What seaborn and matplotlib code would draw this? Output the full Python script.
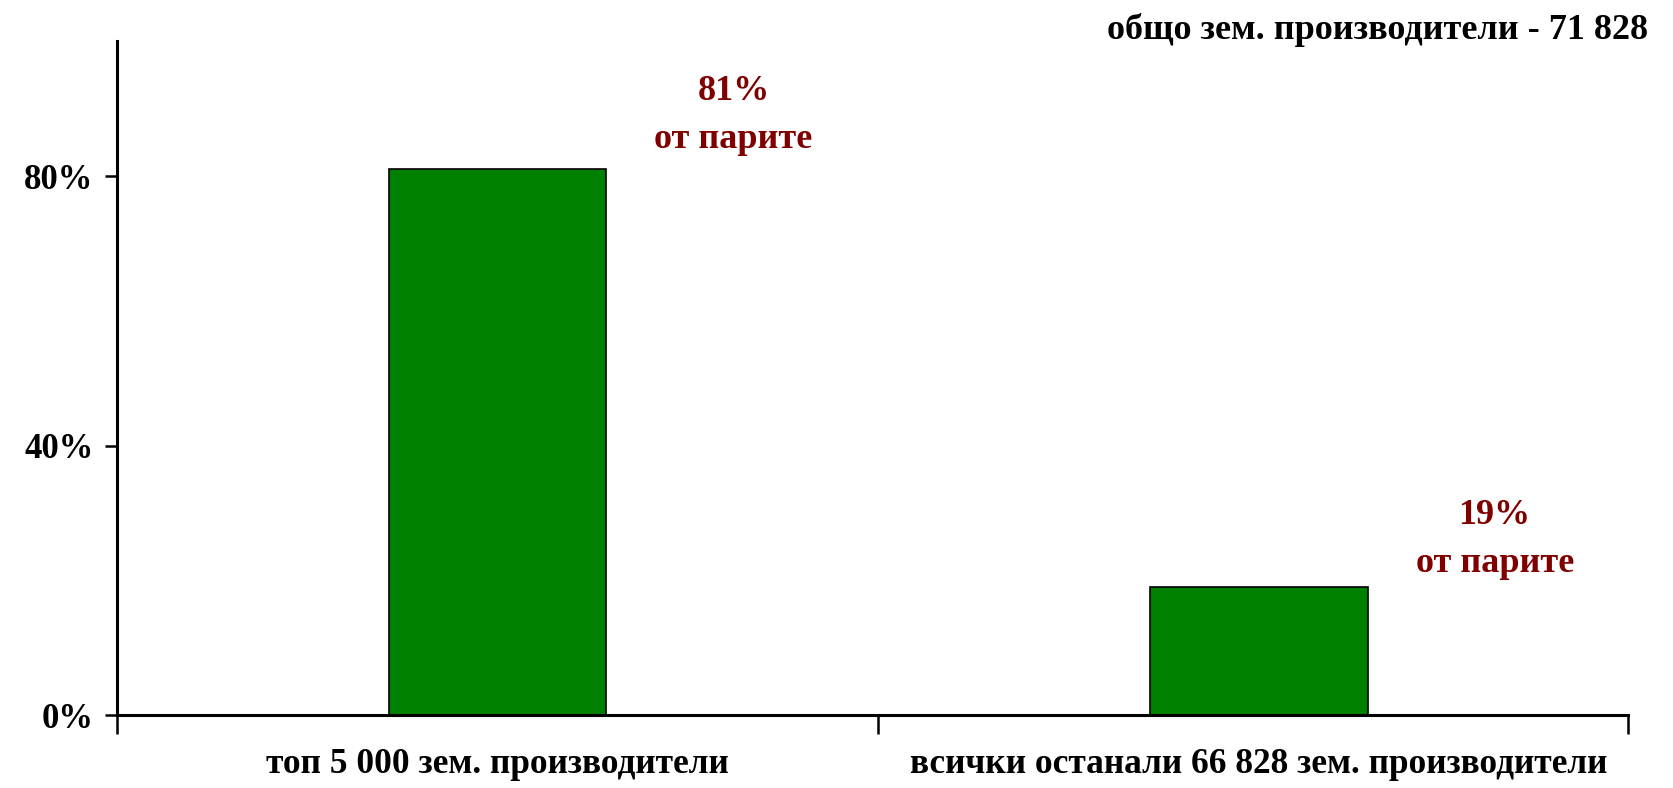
import seaborn as sns
import matplotlib.pyplot as plt
import pandas as pd

categories = ['топ 5 000 зем. производители', 'всички останали 66 828 зем. производители']
shares = [81, 19]
notes = ['81%\nот парите', '19%\nот парите']
yticks = [0, 40, 80]
ytick_labels = ['0%', '40%', '80%']
title = 'общо зем. производители - 71 828'

sns.set_style('white')
plt.rcParams['font.family'] = ['Liberation Serif', 'DejaVu Serif']
plt.rcParams['font.weight'] = 'bold'
plt.rcParams['text.color'] = 'black'
plt.rcParams['xtick.color'] = 'black'
plt.rcParams['ytick.color'] = 'black'

fig = plt.figure(figsize=(16.73, 7.88), dpi=100)
ax = fig.add_axes([0.070, 0.0926, 0.903, 0.855])

df = pd.DataFrame({'cat': categories, 'share': shares})
sns.barplot(data=df, x='cat', y='share', ax=ax, color='#008000', saturation=1,
            width=0.286, edgecolor='black', linewidth=1.2)

x0, x1 = -0.5, 1.485
ax.set_xlim(x0, x1)
ax.set_ylim(0, 100)
ax.set_xlabel('')
ax.set_ylabel('')

# labels at bar centres, ticks at category borders
ax.set_xticks([0, 1], categories, fontsize=25.5, fontweight='bold')
ax.tick_params(axis='x', which='major', bottom=False, length=0, pad=24)
ax.set_xticks([x0, 0.5, x1], minor=True)
ax.tick_params(axis='x', which='minor', bottom=True, length=14, width=1.8, direction='out')
ax.set_yticks(yticks, ytick_labels, fontsize=25, fontweight='bold')
ax.tick_params(axis='y', left=True, length=9, width=1.8, direction='out', pad=8)

for s in ['top', 'right']:
    ax.spines[s].set_visible(False)
for s in ['left', 'bottom']:
    ax.spines[s].set_color('black')
    ax.spines[s].set_linewidth(2.2)

# annotations next to bars
offsets = [8, 7]
for i, (v, txt) in enumerate(zip(shares, notes)):
    ax.annotate(txt, xy=(i, v), xytext=(i + 0.31, v + offsets[i]), ha='center', va='center',
                fontsize=26, fontweight='bold', color='#800000', linespacing=1.6)

fig.text(0.985, 0.962, title, ha='right', va='center', fontsize=26, fontweight='bold')

fig.savefig('out.png', dpi=100)
